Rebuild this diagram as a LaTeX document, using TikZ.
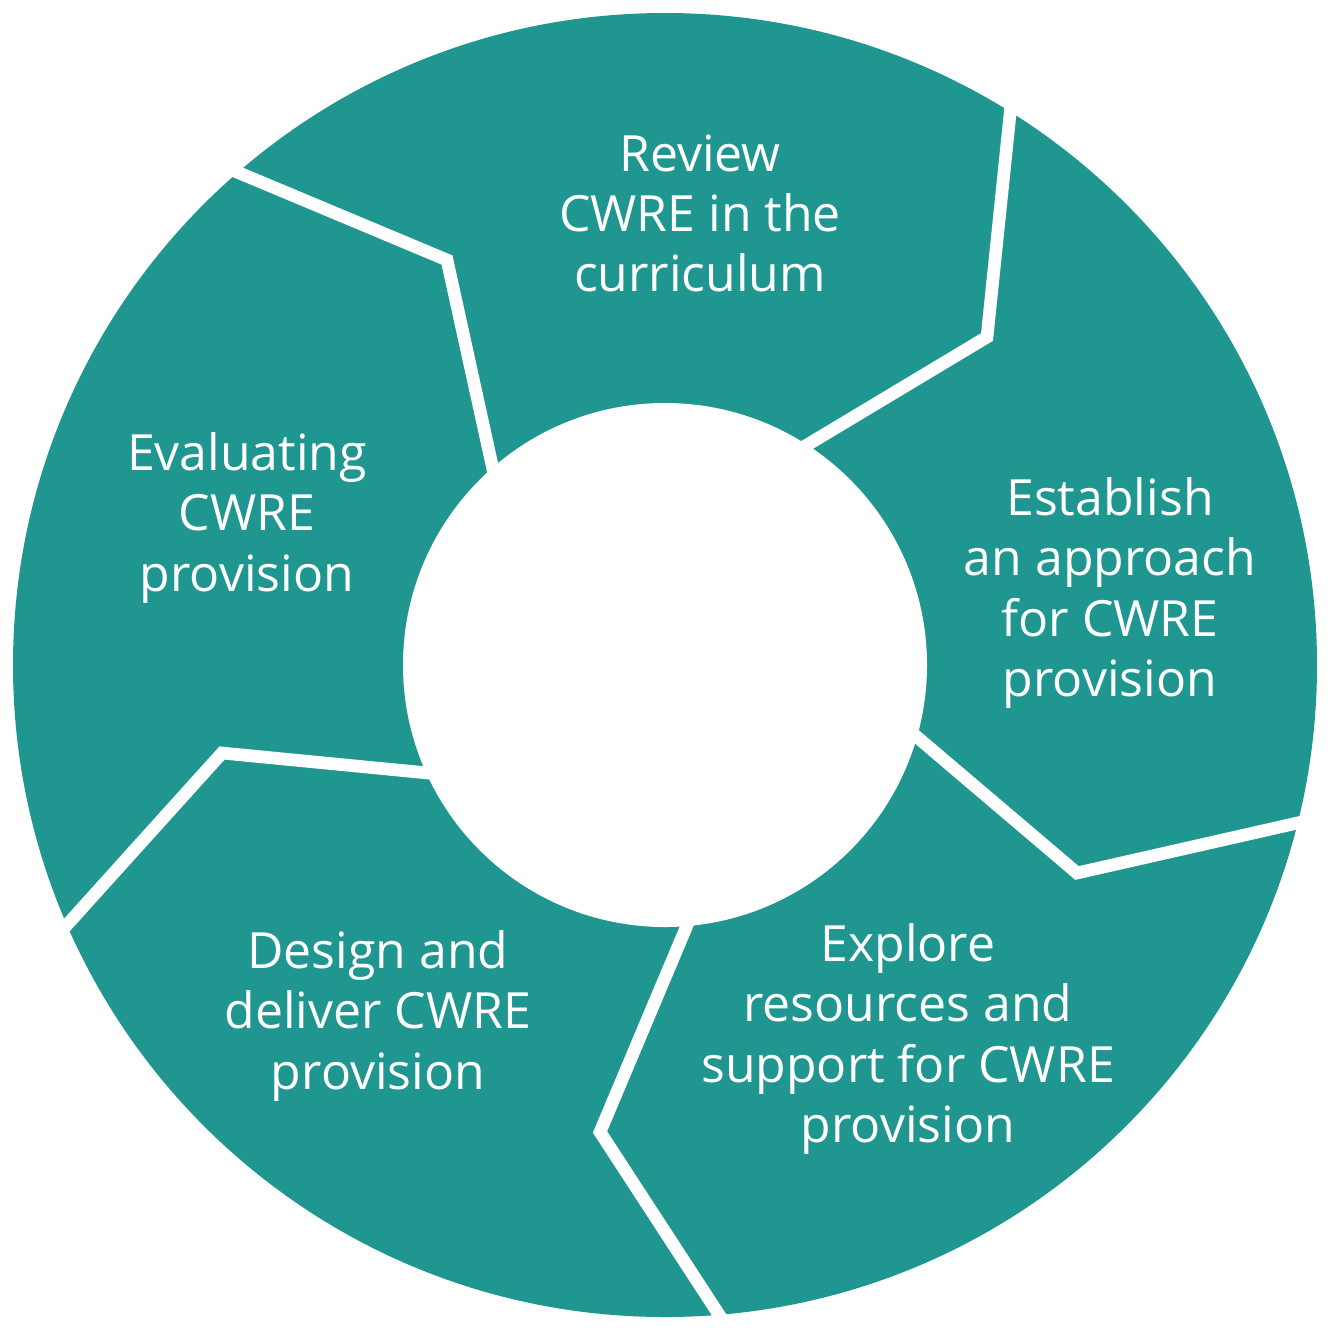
\documentclass[tikz,border=0pt]{standalone}
\usepackage{fontspec}
\setmainfont{Open Sans}
\usepackage{xcolor}
\definecolor{cTeal}{HTML}{1F968F}
\usepackage{tikz}
\usetikzlibrary{calc}
\tikzset{
  ring-fill/.style={fill=cTeal,draw=none},
  hole-fill/.style={fill=white,draw=none},
  gap-line/.style={draw=white,line width=3.6pt,line join=miter},
  step-label/.style={text=white,align=center,
    font=\fontsize{14.2}{17.07}\selectfont},
}

\begin{document}
\begin{tikzpicture}[x=0.01cm,y=-0.01cm]
  \useasboundingbox (0,0) rectangle (1331,1330);
  \coordinate (mid) at (665,665);
  \fill[ring-fill] (mid) circle (652);
  \fill[hole-fill] (mid) circle (262);
  % separators: inner point, bend, outer point
  \coordinate (a1) at (492,465);  \coordinate (b1) at (447,260);  \coordinate (c1) at (225,167);
  \coordinate (a2) at (807,445);  \coordinate (b2) at (987,337);  \coordinate (c2) at (1012,95);
  \coordinate (a3) at (917,737);  \coordinate (b3) at (1077,873); \coordinate (c3) at (1315,819);
  \coordinate (a4) at (688,923);  \coordinate (b4) at (600,1132); \coordinate (c4) at (727,1327);
  \coordinate (a5) at (428,773);  \coordinate (b5) at (222,753);  \coordinate (c5) at (56,937);
  \foreach \i in {1,...,5}
    \draw[gap-line] ($(a\i)!-0.1!(b\i)$) -- (b\i) -- (c\i);
  \node[step-label] (review)    at (700,213)  {Review\\CWRE in the\\curriculum};
  \node[step-label] (establish) at (1110,593) {Establish\\an approach\\for CWRE\\provision};
  \node[step-label] (explore)   at (908,1039) {Explore\\resources and\\support for CWRE\\provision};
  \node[step-label] (design)    at (378,1016) {Design and\\deliver CWRE\\provision};
  \node[step-label] (evaluate)  at (247,518)  {Evaluating\\CWRE\\provision};
\end{tikzpicture}
\end{document}
